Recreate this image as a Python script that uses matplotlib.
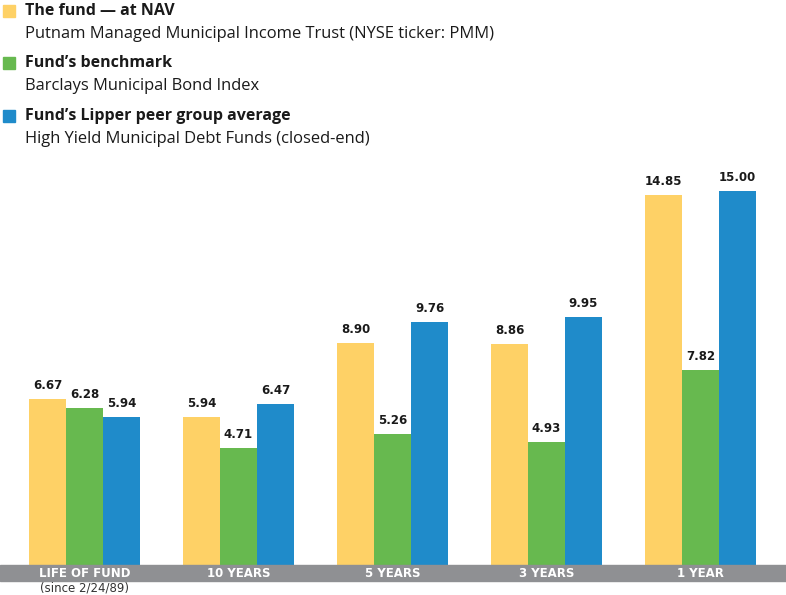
import matplotlib
matplotlib.use("Agg")
import matplotlib.pyplot as plt
from matplotlib.patches import Rectangle
import numpy as np

categories = ["LIFE OF FUND", "10 YEARS", "5 YEARS", "3 YEARS", "1 YEAR"]
fund_nav = [6.67, 5.94, 8.90, 8.86, 14.85]
benchmark = [6.28, 4.71, 5.26, 4.93, 7.82]
lipper = [5.94, 6.47, 9.76, 9.95, 15.00]
series_names = ["The fund \u2014 at NAV", "Fund\u2019s benchmark", "Fund\u2019s Lipper peer group average"]
series_subs = ["Putnam Managed Municipal Income Trust (NYSE ticker: PMM)",
               "Barclays Municipal Bond Index",
               "High Yield Municipal Debt Funds (closed-end)"]
colors = ["#FED166", "#67B94F", "#1F8BCA"]

W, H = 786, 595
fig = plt.figure(figsize=(W / 100, H / 100), dpi=100)
base_px = 565
ax = fig.add_axes([0, (H - base_px) / H, 1, base_px / H])
ppu = 24.93
ax.set_ylim(0, base_px / ppu)
spacing = 154.0
c0 = 84.5
ax.set_xlim(-c0 / spacing, (W - c0) / spacing)
bw = 37.0 / spacing
x = np.arange(len(categories))
for i, (vals, col) in enumerate(zip([fund_nav, benchmark, lipper], colors)):
    xs = x + (i - 1) * bw
    ax.bar(xs, vals, width=bw, color=col, edgecolor="none")
    for xi, v in zip(xs, vals):
        ax.text(xi, v + 0.28, f"{v:.2f}", ha="center", va="bottom",
                fontsize=8.5, fontweight="bold", color="#1a1a1a", family="DejaVu Sans")
ax.axis("off")

# gray category band
fig.patches.append(Rectangle((0, (H - 581) / H), 1, 16 / H, transform=fig.transFigure,
                             color="#8F9093", zorder=0))
for i, c in enumerate(categories):
    fx = (c0 + i * spacing) / W
    fig.text(fx, (H - 573.5) / H, c, ha="center", va="center", color="white",
             fontsize=8.5, fontweight="bold", family="DejaVu Sans")
fig.text(c0 / W, (H - 588) / H, "(since 2/24/89)", ha="center", va="center", color="#333333",
         fontsize=8.5, family="DejaVu Sans")

# legend
rows = [11, 63, 116]
for r, name, sub, col in zip(rows, series_names, series_subs, colors):
    fig.patches.append(Rectangle((3 / W, (H - r - 6) / H), 12 / W, 12 / H,
                                 transform=fig.transFigure, color=col))
    fig.text(25 / W, (H - r) / H, name, ha="left", va="center", fontsize=11.5,
             fontweight="bold", color="#1a1a1a", family=["Open Sans", "DejaVu Sans"])
    fig.text(25 / W, (H - r - 23) / H, sub, ha="left", va="center", fontsize=11.9,
             color="#1a1a1a", family=["Open Sans", "DejaVu Sans"])

fig.savefig("out.png", dpi=100)
